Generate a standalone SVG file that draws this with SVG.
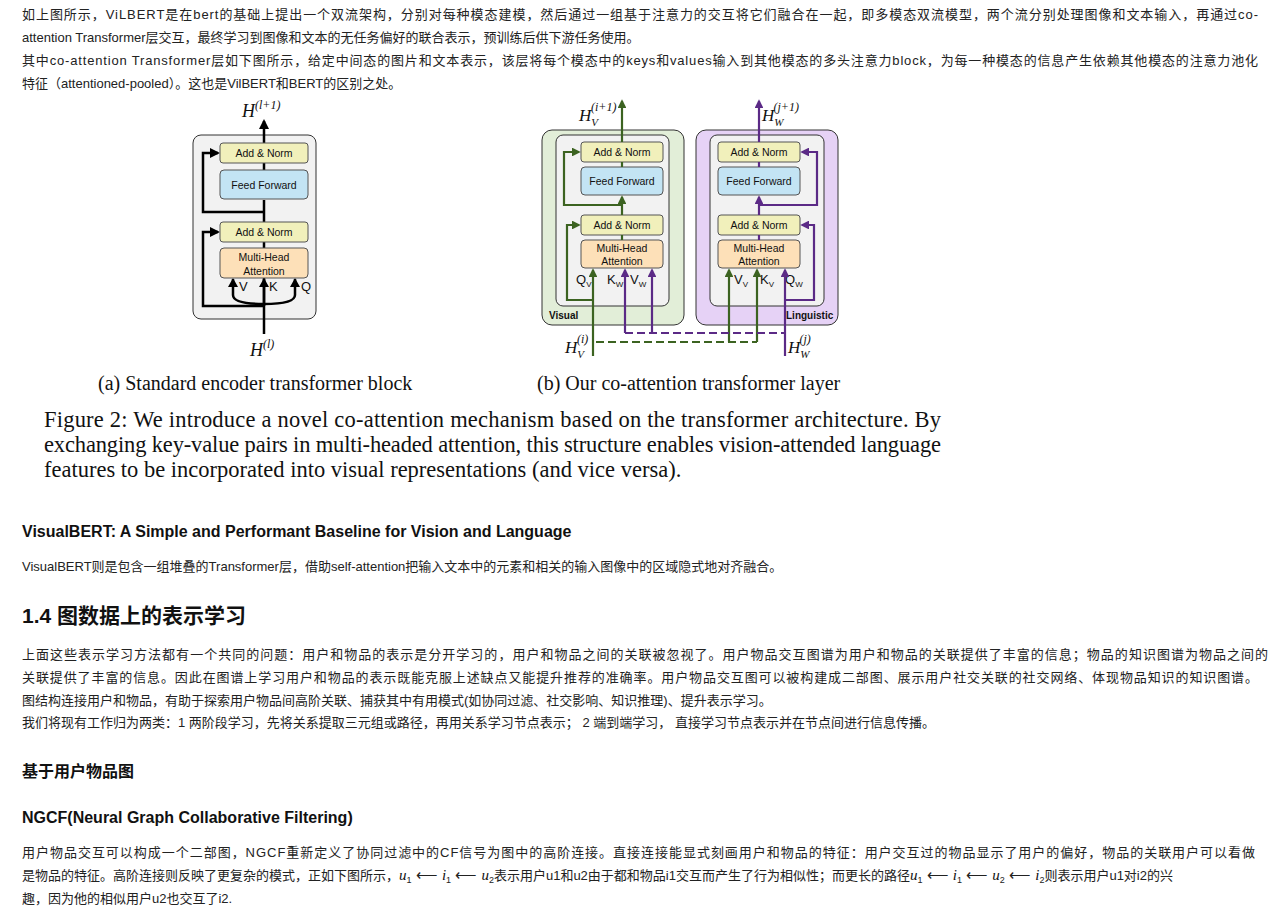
<svg xmlns="http://www.w3.org/2000/svg" width="1270" height="910" viewBox="0 0 1270 910">
<defs>
<style>
.p{font-family:"Liberation Sans","Noto Sans CJK SC",sans-serif;font-size:13px;fill:#222}
.h{font-family:"Liberation Sans","Noto Sans CJK SC",sans-serif;font-weight:bold;fill:#111}
.s{font-family:"Liberation Serif",serif;fill:#111}
.m{font-family:"Liberation Serif",serif;font-style:italic;fill:#111}
.bl{font-family:"Liberation Sans",sans-serif;font-size:10.5px;fill:#111;text-anchor:middle}
.lb{font-family:"Liberation Sans",sans-serif;font-size:13px;fill:#111}
.an{fill:#f1f0bb;stroke:#555;stroke-width:1}
.ff{fill:#c3e4f4;stroke:#555;stroke-width:1}
.mh{fill:#fde0b8;stroke:#555;stroke-width:1}
.k{stroke:#000;stroke-width:2.5;fill:none}
.g{stroke:#3c6321;stroke-width:2.2;fill:none}
.v{stroke:#5b2a86;stroke-width:2.2;fill:none}
</style>
<marker id="ak" viewBox="0 0 10 10" refX="8" refY="5" markerWidth="4" markerHeight="4" orient="auto"><path d="M0,0L10,5L0,10z" fill="#000"/></marker>
<marker id="ag" viewBox="0 0 10 10" refX="8" refY="5" markerWidth="4" markerHeight="4" orient="auto"><path d="M0,0L10,5L0,10z" fill="#3c6321"/></marker>
<marker id="av" viewBox="0 0 10 10" refX="8" refY="5" markerWidth="4" markerHeight="4" orient="auto"><path d="M0,0L10,5L0,10z" fill="#5b2a86"/></marker>
</defs>
<rect width="1270" height="910" fill="#fff"/>
<text class="p" x="22" y="19" textLength="1236">如上图所示，ViLBERT是在bert的基础上提出一个双流架构，分别对每种模态建模，然后通过一组基于注意力的交互将它们融合在一起，即多模态双流模型，两个流分别处理图像和文本输入，再通过co-</text>
<text class="p" x="22" y="42">attention Transformer层交互，最终学习到图像和文本的无任务偏好的联合表示，预训练后供下游任务使用。</text>
<text class="p" x="22" y="65" textLength="1236">其中co-attention Transformer层如下图所示，给定中间态的图片和文本表示，该层将每个模态中的keys和values输入到其他模态的多头注意力block，为每一种模态的信息产生依赖其他模态的注意力池化</text>
<text class="p" x="22" y="88">特征（attentioned-pooled）。这也是VilBERT和BERT的区别之处。</text>

<g id="fig-a">
<rect x="193" y="135" width="123" height="184" rx="8" fill="#f2f2f2" stroke="#333" stroke-width="1"/>
<text class="m" x="242" y="117" font-size="18">H<tspan font-size="12" dy="-8">(l+1)</tspan></text>
<text class="m" x="250" y="356" font-size="18">H<tspan font-size="12" dy="-8">(l)</tspan></text>
<path class="k" d="M264,334V278"/>
<path class="k" d="M264,306H203V232H218" marker-end="url(#ak)"/>
<path class="k" d="M264,222V200"/>
<path class="k" d="M264,163V121" marker-end="url(#ak)"/>
<path class="k" d="M264,212H203V153H218" marker-end="url(#ak)"/>
<path class="k" d="M264,242V248"/>
<path class="k" d="M264,170V163"/>
<path class="k" d="M233,295V279M264,306V279M295,295V279"/>
<path class="k" d="M233,295Q233,304 264,304Q295,304 295,295"/>
<path d="M228,287L233,278L238,287z M259,287L264,278L269,287z M290,287L295,278L300,287z"/>
<rect class="an" x="220" y="143" width="88" height="20" rx="3"/><text class="bl" x="264" y="157">Add &amp; Norm</text>
<rect class="ff" x="220" y="170" width="88" height="29" rx="4"/><text class="bl" x="264" y="189">Feed Forward</text>
<rect class="an" x="220" y="222" width="88" height="20" rx="3"/><text class="bl" x="264" y="236">Add &amp; Norm</text>
<rect class="mh" x="220" y="248" width="88" height="30" rx="4"/><text class="bl" x="264" y="261">Multi-Head</text><text class="bl" x="264" y="275">Attention</text>
<text class="lb" x="239" y="291">V</text><text class="lb" x="269" y="291">K</text><text class="lb" x="301" y="291">Q</text>
</g>

<g id="fig-b-visual">
<rect x="542" y="130" width="142" height="195" rx="10" fill="#e2eed8" stroke="#333"/>
<rect x="556" y="135" width="113" height="171" rx="7" fill="#f2f2f2" stroke="#333"/>
<text class="h" x="549" y="319" font-size="10">Visual</text>
<rect class="an" x="581" y="142" width="82" height="20" rx="3"/><text class="bl" x="622" y="156">Add &amp; Norm</text>
<rect class="ff" x="581" y="167" width="82" height="28" rx="4"/><text class="bl" x="622" y="185">Feed Forward</text>
<rect class="an" x="581" y="215" width="82" height="20" rx="3"/><text class="bl" x="622" y="229">Add &amp; Norm</text>
<rect class="mh" x="581" y="240" width="82" height="28" rx="4"/><text class="bl" x="622" y="252">Multi-Head</text><text class="bl" x="622" y="265">Attention</text>
<text class="lb" x="576" y="284">Q<tspan font-size="8" dy="3">V</tspan></text>
<text class="lb" x="607" y="284">K<tspan font-size="8" dy="3">W</tspan></text>
<text class="lb" x="630" y="284">V<tspan font-size="8" dy="3">W</tspan></text>
<text class="m" x="565" y="353" font-size="17">H<tspan font-size="11" dy="5">V</tspan><tspan font-size="12" dx="-7" dy="-15">(i)</tspan></text>
<text class="m" x="579" y="121" font-size="17">H<tspan font-size="11" dy="5">V</tspan><tspan font-size="12" dx="-7" dy="-15">(i+1)</tspan></text>
</g>

<g id="fig-b-linguistic">
<rect x="696" y="130" width="142" height="195" rx="10" fill="#e6d2f6" stroke="#333"/>
<rect x="710" y="135" width="114" height="171" rx="7" fill="#f2f2f2" stroke="#333"/>
<text class="h" x="786" y="319" font-size="10">Linguistic</text>
<rect class="an" x="718" y="142" width="82" height="20" rx="3"/><text class="bl" x="759" y="156">Add &amp; Norm</text>
<rect class="ff" x="718" y="167" width="82" height="28" rx="4"/><text class="bl" x="759" y="185">Feed Forward</text>
<rect class="an" x="718" y="215" width="82" height="20" rx="3"/><text class="bl" x="759" y="229">Add &amp; Norm</text>
<rect class="mh" x="718" y="240" width="82" height="28" rx="4"/><text class="bl" x="759" y="252">Multi-Head</text><text class="bl" x="759" y="265">Attention</text>
<text class="lb" x="734" y="284">V<tspan font-size="8" dy="3">V</tspan></text>
<text class="lb" x="760" y="284">K<tspan font-size="8" dy="3">V</tspan></text>
<text class="lb" x="785" y="284">Q<tspan font-size="8" dy="3">W</tspan></text>
<text class="m" x="788" y="353" font-size="17">H<tspan font-size="11" dy="5">W</tspan><tspan font-size="12" dx="-10" dy="-15">(j)</tspan></text>
<text class="m" x="762" y="121" font-size="17">H<tspan font-size="11" dy="5">W</tspan><tspan font-size="12" dx="-10" dy="-15">(j+1)</tspan></text>
</g>

<g id="connectors">
<path class="g" d="M593,356V270" marker-end="url(#ag)"/>
<path class="g" d="M593,300H567V225H579" marker-end="url(#ag)"/>
<path class="g" d="M622,215V197" marker-end="url(#ag)"/>
<path class="g" d="M622,205H564V152H579" marker-end="url(#ag)"/>
<path class="g" d="M622,235V240M622,162V167"/>
<path class="g" d="M622,142V101" marker-end="url(#ag)"/>
<path class="g" d="M729,342V270" marker-end="url(#ag)"/>
<path class="g" d="M757,342V270" marker-end="url(#ag)"/>
<path class="g" d="M596,342H757" stroke-dasharray="8,4"/>
<path class="v" d="M785,356V270" marker-end="url(#av)"/>
<path class="v" d="M785,300H814V225H802" marker-end="url(#av)"/>
<path class="v" d="M759,215V197" marker-end="url(#av)"/>
<path class="v" d="M759,205H817V152H802" marker-end="url(#av)"/>
<path class="v" d="M759,235V240M759,162V167"/>
<path class="v" d="M759,142V101" marker-end="url(#av)"/>
<path class="v" d="M652,333V270" marker-end="url(#av)"/>
<path class="v" d="M625,333V270" marker-end="url(#av)"/>
<path class="v" d="M625,333H784" stroke-dasharray="8,4"/>
</g>

<text class="s" x="98" y="390" font-size="20">(a) Standard encoder transformer block</text>
<text class="s" x="537" y="390" font-size="20">(b) Our co-attention transformer layer</text>
<text class="s" x="44" y="427" font-size="22.5" textLength="897">Figure 2: We introduce a novel co-attention mechanism based on the transformer architecture. By</text>
<text class="s" x="44" y="452" font-size="22.5" textLength="897">exchanging key-value pairs in multi-headed attention, this structure enables vision-attended language</text>
<text class="s" x="44" y="477" font-size="22.5">features to be incorporated into visual representations (and vice versa).</text>

<text class="h" x="22" y="537" font-size="16">VisualBERT: A Simple and Performant Baseline for Vision and Language</text>
<text class="p" x="22" y="571">VisualBERT则是包含一组堆叠的Transformer层，借助self-attention把输入文本中的元素和相关的输入图像中的区域隐式地对齐融合。</text>
<text class="h" x="22" y="623" font-size="21">1.4 图数据上的表示学习</text>
<text class="p" x="22" y="659" textLength="1246">上面这些表示学习方法都有一个共同的问题：用户和物品的表示是分开学习的，用户和物品之间的关联被忽视了。用户物品交互图谱为用户和物品的关联提供了丰富的信息；物品的知识图谱为物品之间的</text>
<text class="p" x="22" y="682" textLength="1236">关联提供了丰富的信息。因此在图谱上学习用户和物品的表示既能克服上述缺点又能提升推荐的准确率。用户物品交互图可以被构建成二部图、展示用户社交关联的社交网络、体现物品知识的知识图谱。</text>
<text class="p" x="22" y="705">图结构连接用户和物品，有助于探索用户物品间高阶关联、捕获其中有用模式(如协同过滤、社交影响、知识推理)、提升表示学习。</text>
<text class="p" x="22" y="727">我们将现有工作归为两类：1 两阶段学习，先将关系提取三元组或路径，再用关系学习节点表示； 2 端到端学习， 直接学习节点表示并在节点间进行信息传播。</text>
<text class="h" x="22" y="777" font-size="16">基于用户物品图</text>
<text class="h" x="22" y="823" font-size="16">NGCF(Neural Graph Collaborative Filtering)</text>
<text class="p" x="22" y="857" textLength="1233">用户物品交互可以构成一个二部图，NGCF重新定义了协同过滤中的CF信号为图中的高阶连接。直接连接能显式刻画用户和物品的特征：用户交互过的物品显示了用户的偏好，物品的关联用户可以看做</text>
<text class="p" x="22" y="880">是物品的特征。高阶连接则反映了更复杂的模式，正如下图所示，<tspan class="m" font-size="15">u</tspan><tspan font-size="9" dy="3">1</tspan><tspan dy="-3" font-size="15"> ⟵ </tspan><tspan class="m" font-size="15">i</tspan><tspan font-size="9" dy="3">1</tspan><tspan dy="-3" font-size="15"> ⟵ </tspan><tspan class="m" font-size="15">u</tspan><tspan font-size="9" dy="3">2</tspan><tspan dy="-3">表示用户u1和u2由于都和物品i1交互而产生了行为相似性；而更长的路径</tspan><tspan class="m" font-size="15">u</tspan><tspan font-size="9" dy="3">1</tspan><tspan dy="-3" font-size="15"> ⟵ </tspan><tspan class="m" font-size="15">i</tspan><tspan font-size="9" dy="3">1</tspan><tspan dy="-3" font-size="15"> ⟵ </tspan><tspan class="m" font-size="15">u</tspan><tspan font-size="9" dy="3">2</tspan><tspan dy="-3" font-size="15"> ⟵ </tspan><tspan class="m" font-size="15">i</tspan><tspan font-size="9" dy="3">2</tspan><tspan dy="-3">则表示用户u1对i2的兴</tspan></text>
<text class="p" x="22" y="903">趣，因为他的相似用户u2也交互了i2.</text>
</svg>
